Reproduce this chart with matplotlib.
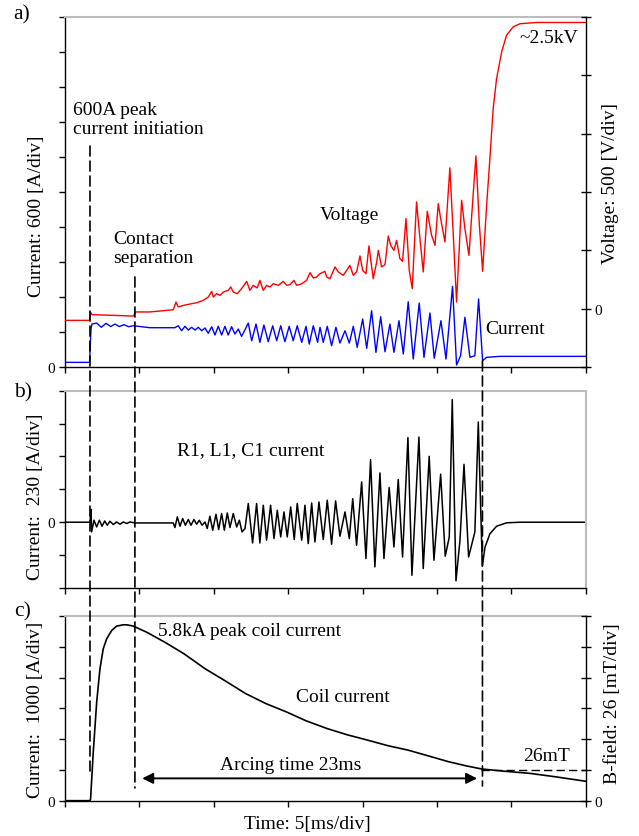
import matplotlib
matplotlib.use('Agg')
import matplotlib.pyplot as plt
from matplotlib.patches import ConnectionPatch

plt.rcParams['font.family'] = ['Liberation Serif', 'DejaVu Serif']

# ---------------- data (time in ms) ----------------
# panel a: arc current [A]
a_cur_t = [0, 1.65, 1.75, 1.81, 2.13, 2.44, 2.76, 3.07, 3.36, 3.65, 3.97, 4.28, 4.59, 5.71, 7.39,
           7.61, 7.84, 8.06, 8.29, 8.51, 8.74, 8.96, 9.19, 9.41, 9.63, 9.86, 10.08, 10.30, 10.53,
           10.75, 10.97, 11.20, 11.42, 11.65, 11.87, 12.10, 12.32, 12.55, 12.84, 13.10, 13.37,
           13.66, 13.96, 14.23, 14.50, 14.78, 15.07, 15.34, 15.61, 15.91, 16.20, 16.42, 16.69,
           16.98, 17.14, 17.36, 17.63, 17.92, 18.21, 18.48, 18.82, 19.11, 19.38, 19.64, 20.01,
           20.28, 20.61, 20.90, 21.22, 21.51, 21.84, 22.11, 22.45, 22.74, 23.07, 23.41, 23.81,
           24.13, 24.53, 24.82, 25.27, 25.61, 26.05, 26.32, 26.59, 26.88, 27.22, 27.55, 27.80,
           28.07, 28.34, 29.23, 35]
a_cur_i = [80, 80, 651, 737, 754, 681, 749, 694, 737, 694, 725, 691, 708, 674, 674,
           708, 622, 698, 634, 681, 634, 681, 622, 669, 578, 691, 549, 698, 549,
           698, 549, 691, 566, 651, 526, 639, 754, 451, 737, 423, 720,
           434, 708, 451, 708, 434, 698, 451, 708, 423, 698, 394, 708,
           423, 681, 423, 698, 365, 681, 411, 622, 411, 698, 338, 823,
           321, 965, 252, 862, 262, 737, 252, 794, 223, 1119, 137, 1097,
           166, 926, 149, 794, 137, 1383, 34, 194, 852, 166, 194, 1166,
           108, 166, 183, 183]

# panel a: arc voltage [V]
a_volt_t = [0, 1.65, 1.71, 1.81, 4.60, 4.74, 5.71, 7.28, 7.46, 7.61, 7.95, 8.40, 8.85, 9.29,
            9.63, 9.86, 9.97, 10.19, 10.42, 10.64, 10.97, 11.14, 11.31, 11.58, 11.87, 12.21,
            12.43, 12.65, 12.92, 13.10, 13.33, 13.55, 13.78, 14.00, 14.34, 14.67, 14.90, 15.12,
            15.39, 15.57, 15.91, 16.24, 16.47, 16.69, 16.92, 17.14, 17.47, 17.59, 17.81, 18.15,
            18.37, 18.70, 18.93, 19.15, 19.38, 19.60, 19.83, 20.01, 20.23, 20.43, 20.72, 20.95,
            21.06, 21.28, 21.51, 21.73, 21.89, 22.11, 22.29, 22.51, 22.69, 22.92, 23.14, 23.34,
            23.63, 23.86, 24.08, 24.35, 24.64, 24.87, 25.09, 25.25, 25.54, 25.87, 26.10, 26.32,
            26.66, 26.88, 27.15, 27.62, 27.84, 28.07, 28.34, 28.56, 28.78, 29.01, 29.35, 29.68,
            30.13, 30.58, 31.70, 35]
a_volt_v = [-100, -100, -28, -51, -63, -28, -28, -9, 57, 15, 28, 40, 51, 71,
            100, 148, 100, 129, 114, 143, 157, 186, 143, 129, 172, 234,
            157, 200, 178, 243, 157, 200, 186, 214, 200, 234, 200, 206,
            243, 200, 214, 243, 309, 263, 272, 300, 320, 272, 257, 358,
            315, 286, 328, 371, 286, 315, 452, 328, 300, 538, 257, 400,
            500, 358, 377, 623, 543, 500, 586, 429, 406, 772, 328, 172,
            915, 600, 315, 835, 629, 543, 900, 772, 572, 1207, 629, 57,
            929, 686, 457, 1310, 744, 320, 886, 1286, 1715, 1972, 2201, 2344,
            2416, 2442, 2453, 2453]

# panel b: R1, L1, C1 current [A]
b_t = [0, 1.68, 1.75, 1.79, 1.95, 2.13, 2.31, 2.49, 2.67, 2.84, 3.02, 3.25, 3.47, 3.70, 3.92,
       4.15, 4.37, 4.70, 7.28, 7.39, 7.55, 7.73, 7.91, 8.09, 8.29, 8.47, 8.67, 8.85, 9.03,
       9.21, 9.41, 9.56, 9.74, 9.93, 10.15, 10.33, 10.53, 10.71, 10.91, 11.09, 11.31, 11.54,
       11.72, 11.90, 12.10, 12.32, 12.61, 12.88, 13.10, 13.33, 13.55, 13.82, 14.05, 14.27,
       14.50, 14.72, 14.94, 15.17, 15.41, 15.61, 15.91, 16.13, 16.35, 16.58, 16.80, 17.07,
       17.36, 17.63, 17.92, 18.19, 18.48, 18.82, 19.11, 19.34, 19.60, 19.94, 20.23, 20.54,
       20.83, 21.17, 21.44, 21.79, 22.11, 22.40, 22.69, 23.05, 23.32, 23.79, 24.08, 24.48,
       24.80, 25.25, 25.56, 25.83, 26.03, 26.28, 26.55, 26.82, 27.13, 27.55, 27.78, 28.05,
       28.23, 28.56, 29.01, 29.68, 30.58, 35]
b_i = [0, 0, 89, -68, 14, -33, 14, -28, 9, -21, 7, -16, 2, -14, 2,
       -9, 2, -5, -5, -37, 37, -28, 26, -21, 19, -21, 19, -14, 14,
       -21, 2, -44, 42, -56, 56, -51, 61, -56, 65, -37, 61, -33,
       14, -68, -44, 131, -145, 131, -145, 119, -126, 119, -114, 84,
       -103, 72, -103, 107, -121, 131, -126, 119, -149, 135, -138, 142,
       -121, 154, -154, 149, -98, 72, -114, 165, -161, 282, -254, 438,
       -312, 345, -254, 243, -173, 299, -243, 592, -371, 596, -324, 461,
       -266, 336, -238, -103, 858, -410, -126, 405, -243, -68, 701, -308,
       -175, -81, -28, -4, 0, 0]

# panel c: coil current [A]
c_t = [0, 1.68, 1.72, 1.90, 2.13, 2.35, 2.57, 2.80, 3.14, 3.47, 3.92, 4.15, 4.59, 5.5, 6.69,
       8.0, 9.41, 10.8, 12.14, 13.5, 14.88, 16.2, 17.61, 19.0, 20.34, 21.7, 23.06, 24.4,
       25.79, 27.0, 28.00, 29.5, 31.25, 33.0, 35]
c_i = [0, 0, 55, 1576, 3205, 4290, 4941, 5267, 5537, 5680, 5723, 5723, 5680, 5480, 5162,
       4780, 4296, 3890, 3485, 3160, 2889, 2600, 2348, 2140, 1970, 1790, 1645, 1460,
       1267, 1130, 1032, 960, 889, 775, 632]

t_init = 1.68      # current initiation
t_sep = 4.70       # contact separation
t_end = 28.06      # end of arcing
b_level = 26       # mT

# ---------------- figure ----------------
fig = plt.figure(figsize=(6.39, 8.37), dpi=100)
L, W = 0.1017, 0.8149
ax_a = fig.add_axes([L, 0.5603, W, 0.4182])
ax_b = fig.add_axes([L, 0.2963, W, 0.2357])
ax_c = fig.add_axes([L, 0.0422, W, 0.2203])

GREY = '#bcbcbc'
TFS = 14
TICKFS = 11


def style(ax, right_grey=True):
    ax.set_xlim(0, 35)
    ax.set_xticks(range(0, 36, 5))
    ax.set_xticklabels([])
    ax.spines['top'].set_color(GREY)
    ax.spines['top'].set_linewidth(1.5)
    for s in ('left', 'bottom'):
        ax.spines[s].set_linewidth(1.0)
    if right_grey:
        ax.spines['right'].set_color(GREY)
        ax.spines['right'].set_linewidth(1.5)
    else:
        ax.spines['right'].set_visible(False)
    ax.tick_params(axis='both', direction='out', length=4, width=1.0, labelsize=TICKFS, pad=3)
    ax.tick_params(axis='y', right=False)


def zero_only(ticks):
    return ['0' if abs(v) < 1e-9 else '' for v in ticks]


def style_twin(ax2):
    for s in ('left', 'top', 'bottom'):
        ax2.spines[s].set_visible(False)
    ax2.spines['right'].set_linewidth(1.0)
    ax2.tick_params(axis='y', direction='inout', length=7, width=1.0, labelsize=TICKFS, pad=3)


# ---- panel a ----
style(ax_a, right_grey=False)
ya = list(range(0, 6001, 600))
ax_a.set_ylim(0, 6000)
ax_a.set_yticks(ya)
ax_a.set_yticklabels(zero_only(ya))
ax_a2 = ax_a.twinx()
style_twin(ax_a2)
ax_a2.set_xlim(0, 35)
yv = list(range(-500, 2501, 500))
ax_a2.set_ylim(-500, 2500)
ax_a2.set_yticks(yv)
ax_a2.set_yticklabels(zero_only(yv))
ax_a.plot(a_cur_t, a_cur_i, color='#0000ff', lw=1.0)
ax_a2.plot(a_volt_t, a_volt_v, color='#ff0000', lw=1.0)

ax_a.text(-0.0538, 0.434, 'Current: 600 [A/div]', transform=ax_a.transAxes, rotation=90,
          ha='center', va='center', fontsize=TFS)
ax_a.text(1.0467, 0.526, 'Voltage: 500 [V/div]', transform=ax_a.transAxes, rotation=90,
          ha='center', va='center', fontsize=TFS)
ax_a.text(0.52, 4251, '600A peak\ncurrent initiation', ha='left', va='center', fontsize=TFS,
          linespacing=1.1)
ax_a.text(3.23, 2040, 'Contact\nseparation', ha='left', va='center', fontsize=TFS, linespacing=1.1)
ax_a.text(17.14, 2614, 'Voltage', ha='left', va='center', fontsize=TFS)
ax_a.text(28.23, 660, 'Current', ha='left', va='center', fontsize=TFS)
ax_a.text(34.5, 5657, '~2.5kV', ha='right', va='center', fontsize=TFS)

# ---- panel b ----
style(ax_b, right_grey=True)
yb = list(range(-460, 921, 230))
ax_b.set_ylim(-460, 920)
ax_b.set_yticks(yb)
ax_b.set_yticklabels(zero_only(yb))
ax_b.plot(b_t, b_i, color='black', lw=1.1)
ax_b.text(-0.0557, 0.468, 'Current:  230 [A/div]', transform=ax_b.transAxes, rotation=90,
          ha='center', va='center', fontsize=TFS)
ax_b.text(7.5, 510, 'R1, L1, C1 current', ha='left', va='center', fontsize=TFS)

# ---- panel c ----
style(ax_c, right_grey=False)
yc = list(range(0, 6001, 1000))
ax_c.set_ylim(0, 6000)
ax_c.set_yticks(yc)
ax_c.set_yticklabels(zero_only(yc))
ax_c2 = ax_c.twinx()
style_twin(ax_c2)
ax_c2.set_xlim(0, 35)
yB = list(range(0, 157, 26))
ax_c2.set_ylim(0, 156)
ax_c2.set_yticks(yB)
ax_c2.set_yticklabels(zero_only(yB))
ax_c.plot(c_t, c_i, color='black', lw=1.2)
ax_c2.plot([27.95, 35], [b_level, b_level], color='black', lw=1.0, linestyle=(0, (6, 3)))

ax_c.text(-0.0557, 0.497, 'Current:  1000 [A/div]', transform=ax_c.transAxes, rotation=90,
          ha='center', va='center', fontsize=TFS)
ax_c.text(1.0505, 0.530, 'B-field: 26 [mT/div]', transform=ax_c.transAxes, rotation=90,
          ha='center', va='center', fontsize=TFS)
ax_c.text(6.28, 5543, '5.8kA peak coil current', ha='left', va='center', fontsize=TFS)
ax_c.text(15.56, 3377, 'Coil current', ha='left', va='center', fontsize=TFS)
ax_c.text(15.15, 1163, 'Arcing time 23ms', ha='center', va='center', fontsize=TFS)
ax_c.text(32.36, 1472, '26mT', ha='center', va='center', fontsize=TFS)
ax_c.annotate('', xy=(27.7, 726), xytext=(5.19, 726),
              arrowprops=dict(arrowstyle='<|-|>', mutation_scale=16, lw=1.4, color='black',
                              shrinkA=0, shrinkB=0))
ax_c.text(0.466, -0.126, 'Time: 5[ms/div]', transform=ax_c.transAxes, ha='center', va='center',
          fontsize=TFS)

# panel letters
fig.text(0.0344, 0.982, 'a)', ha='center', va='center', fontsize=15.5)
fig.text(0.036, 0.5305, 'b)', ha='center', va='center', fontsize=15.5)
fig.text(0.036, 0.269, 'c)', ha='center', va='center', fontsize=15.5)

# vertical dashed event markers spanning the panels
for t, top_i, bot_i in [(t_init, 3788, 870), (t_sep, 1543, 414), (t_end, 103, 479)]:
    con = ConnectionPatch(xyA=(t, top_i), coordsA=ax_a.transData,
                          xyB=(t, bot_i), coordsB=ax_c.transData,
                          color='black', lw=1.2, linestyle=(0, (6, 3)), zorder=5)
    fig.add_artist(con)

fig.savefig('out.png', dpi=100)
